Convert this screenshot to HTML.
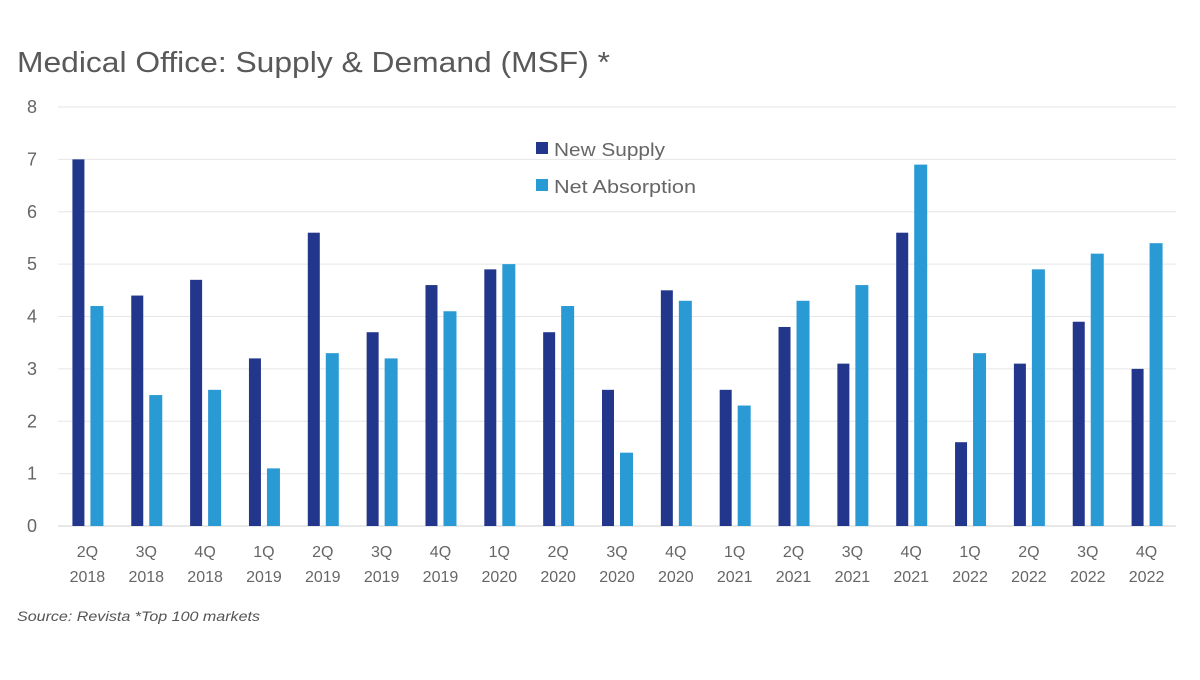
<!DOCTYPE html>
<html><head><meta charset="utf-8"><style>
body{margin:0;background:#fff;width:1200px;height:675px;overflow:hidden;font-family:"Liberation Sans",sans-serif}
</style></head><body>
<svg width="1200" height="675" xmlns="http://www.w3.org/2000/svg">
<text x="17" y="72" font-size="29" fill="#595959" textLength="593" lengthAdjust="spacingAndGlyphs">Medical Office: Supply &amp; Demand (MSF) *</text>
<g id="grid"></g><g id="bars"></g><g id="xlabels"></g>
<g>
<rect x="536" y="142" width="12" height="12" fill="#22368c"/>
<text x="554" y="156" font-size="18" fill="#666" textLength="111" lengthAdjust="spacingAndGlyphs">New Supply</text>
<rect x="536" y="179" width="12" height="12" fill="#2a9ad4"/>
<text x="554" y="193" font-size="18" fill="#666" textLength="142" lengthAdjust="spacingAndGlyphs">Net Absorption</text>
</g>
<text x="17" y="621" font-size="14" font-style="italic" fill="#555" textLength="243" lengthAdjust="spacingAndGlyphs">Source: Revista  *Top 100 markets</text>
</svg>
<script>
const quarters=["2Q","3Q","4Q","1Q","2Q","3Q","4Q","1Q","2Q","3Q","4Q","1Q","2Q","3Q","4Q","1Q","2Q","3Q","4Q"];
const years=["2018","2018","2018","2019","2019","2019","2019","2020","2020","2020","2020","2021","2021","2021","2021","2022","2022","2022","2022"];
const newSupply=[7.0,4.4,4.7,3.2,5.6,3.7,4.6,4.9,3.7,2.6,4.5,2.6,3.8,3.1,5.6,1.6,3.1,3.9,3.0];
const netAbsorption=[4.2,2.5,2.6,1.1,3.3,3.2,4.1,5.0,4.2,1.4,4.3,2.3,4.3,4.6,6.9,3.3,4.9,5.2,5.4];
const yTicks=[0,1,2,3,4,5,6,7,8];
const NS="http://www.w3.org/2000/svg";
const L=58,R=1176,Y0=526,Y8=107;
const y=v=>Y0-(v/8)*(Y0-Y8);
const bw=(R-L)/quarters.length;
const cx=i=>L+bw*(i+0.5);
function mk(t,a,p){const e=document.createElementNS(NS,t);for(const k in a)e.setAttribute(k,a[k]);p.appendChild(e);return e;}
const grid=document.getElementById('grid');
yTicks.forEach(t=>{
 const l=mk('line',{x1:L,x2:R,y1:y(t),y2:y(t),stroke:t===0?'#d0d0d0':'#e6e6e6','stroke-width':1},grid);
 
 
 const tx=mk('text',{x:37,y:y(t)+6,'font-size':18,fill:'#666','text-anchor':'end'},grid);
 tx.textContent=t;
 
 
});
const bars=document.getElementById('bars'),xl=document.getElementById('xlabels');
quarters.forEach((q,i)=>{
 const c=cx(i);
 const a=mk('rect',{x:c-15,y:y(newSupply[i]),width:12,height:Y0-y(newSupply[i]),fill:'#22368c'},bars);
 
 
 const b=mk('rect',{x:c+3,y:y(netAbsorption[i]),width:13,height:Y0-y(netAbsorption[i]),fill:'#2a9ad4'},bars);
 
 
 const t1=mk('text',{x:c,y:557,'font-size':16,fill:'#666','text-anchor':'middle'},xl);
 t1.textContent=q;
 
 
 const t2=mk('text',{x:c,y:582,'font-size':16,fill:'#666','text-anchor':'middle'},xl);
 t2.textContent=years[i];
 
 
});
</script>
</body></html>
